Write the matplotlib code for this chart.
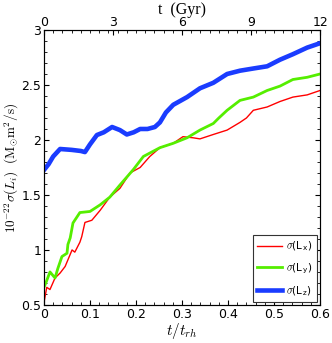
import matplotlib
matplotlib.use('Agg')
import matplotlib.pyplot as plt
from matplotlib.ticker import MultipleLocator

plt.rcParams['mathtext.fontset'] = 'cm'
plt.rcParams['font.family'] = 'DejaVu Sans'

# sigma(L_x)
t_x = [0.0, 0.006, 0.013, 0.024, 0.035, 0.046, 0.052, 0.061, 0.067, 0.078, 0.082,
       0.089, 0.104, 0.122, 0.143, 0.165, 0.187, 0.209, 0.23, 0.252, 0.281, 0.302,
       0.324, 0.339, 0.368, 0.398, 0.426, 0.44, 0.455, 0.485, 0.513, 0.541, 0.572, 0.6]
s_x = [0.52, 0.66, 0.64, 0.745, 0.79, 0.85, 0.91, 1.0, 0.98, 1.07, 1.12,
       1.25, 1.27, 1.36, 1.48, 1.56, 1.7, 1.75, 1.85, 1.93, 1.97, 2.03,
       2.02, 2.01, 2.05, 2.09, 2.16, 2.2, 2.27, 2.3, 2.35, 2.39, 2.41, 2.45]

# sigma(L_y)
t_y = [0.0, 0.004, 0.013, 0.024, 0.03, 0.039, 0.05, 0.052, 0.057, 0.063, 0.078,
       0.1, 0.122, 0.143, 0.165, 0.194, 0.216, 0.252, 0.281, 0.311, 0.339, 0.368,
       0.38, 0.398, 0.426, 0.455, 0.485, 0.513, 0.541, 0.572, 0.6]
s_y = [0.66, 0.7, 0.8, 0.745, 0.83, 0.94, 0.97, 1.05, 1.11, 1.245, 1.34,
       1.35, 1.41, 1.48, 1.59, 1.73, 1.85, 1.93, 1.97, 2.02, 2.09, 2.15,
       2.2, 2.27, 2.36, 2.39, 2.45, 2.49, 2.55, 2.57, 2.6]

# sigma(L_z)
t_z = [0.0, 0.01, 0.02, 0.035, 0.06, 0.08, 0.089, 0.1, 0.115, 0.13, 0.148, 0.165,
       0.18, 0.195, 0.209, 0.225, 0.241, 0.252, 0.265, 0.281, 0.311, 0.339, 0.368,
       0.398, 0.426, 0.455, 0.485, 0.513, 0.541, 0.572, 0.6]
s_z = [1.727, 1.78, 1.85, 1.918, 1.91, 1.9, 1.89, 1.96, 2.045, 2.07, 2.118, 2.09,
       2.05, 2.07, 2.1, 2.1, 2.118, 2.16, 2.25, 2.32, 2.39, 2.47, 2.52,
       2.6, 2.63, 2.65, 2.67, 2.73, 2.78, 2.84, 2.88]

x_ticks = [0, 0.1, 0.2, 0.3, 0.4, 0.5, 0.6]
x_labels = ['0', '0.1', '0.2', '0.3', '0.4', '0.5', '0.6']
y_ticks = [0.5, 1, 1.5, 2, 2.5, 3]
y_labels = ['0.5', '1', '1.5', '2', '2.5', '3']
gyr_ticks = [0, 3, 6, 9, 12]
gyr_scale = 0.6 / 12  # t/t_rh per Gyr

fig = plt.figure(figsize=(3.32, 3.43), dpi=100)
ax = fig.add_axes([0.1325, 0.111, 0.8315, 0.8015])

ax.plot(t_x, s_x, color='#ff0000', lw=1.0, label=r'$\sigma$(L$_\mathregular{x}$)')
ax.plot(t_y, s_y, color='#55ee00', lw=2.0, label=r'$\sigma$(L$_\mathregular{y}$)')
ax.plot(t_z, s_z, color='#1a3cff', lw=3.3, label=r'$\sigma$(L$_\mathregular{z}$)')

ax.set_xticks(x_ticks)
ax.set_xticklabels(x_labels)
ax.set_yticks(y_ticks)
ax.set_yticklabels(y_labels)
ax.xaxis.set_minor_locator(MultipleLocator(0.02))
ax.yaxis.set_minor_locator(MultipleLocator(0.1))
ax.set_xlim(0, 0.6)
ax.set_ylim(0.5, 3)
ax.tick_params(which='both', direction='in', right=True, labelsize=9, pad=2)
ax.tick_params(which='major', length=3.5)
ax.tick_params(which='minor', length=2)

ax.set_xlabel(r'$t/t_{rh}$', fontsize=11, labelpad=0)
ax.set_ylabel(r'$10^{-22}\sigma(L_i)\ \ (\mathrm{M_{\odot}m^2/s})$', fontsize=9.5)
ax.yaxis.set_label_coords(-0.085, 0.5)

top = ax.twiny()
top.set_xticks([g * gyr_scale for g in gyr_ticks])
top.set_xticklabels([str(g) for g in gyr_ticks])
top.xaxis.set_minor_locator(MultipleLocator(0.02))
top.set_xlim(0, 0.6)
top.tick_params(which='both', direction='in', labelsize=9, pad=0.5)
top.tick_params(which='major', length=3.5)
top.tick_params(which='minor', length=2)
top.set_xlabel('t  (Gyr)', fontsize=11.5, family='Liberation Serif')
top.xaxis.set_label_coords(0.5, 1.06)

for sp in ax.spines.values():
    sp.set_color('#444444')

leg = ax.legend(loc='lower right', fontsize=7.5, handlelength=2.4, handletextpad=0.4,
                borderaxespad=0.3, fancybox=False, framealpha=1, labelspacing=0.8)
leg.get_frame().set_edgecolor('#333333')
leg.get_frame().set_linewidth(0.8)

fig.savefig('out.png', dpi=100)
